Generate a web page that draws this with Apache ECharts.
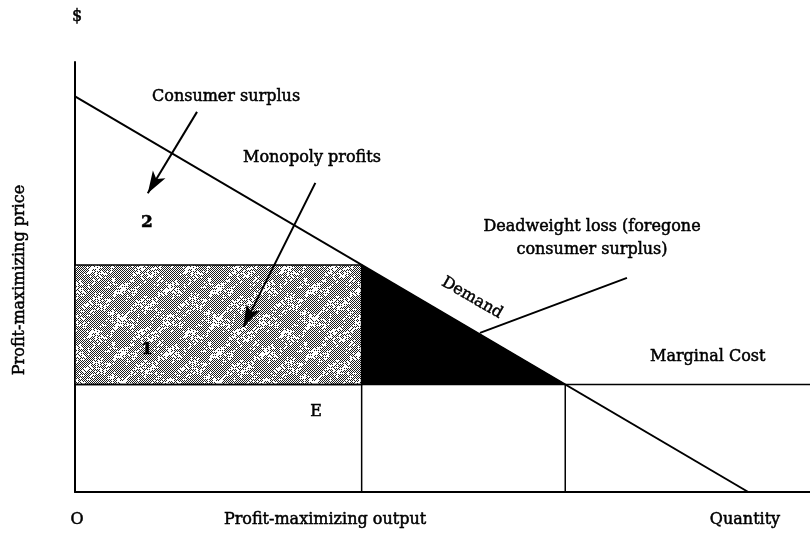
<!DOCTYPE html>
<html>
<head>
<meta charset="utf-8">
<script src="https://cdn.jsdelivr.net/npm/echarts@6/dist/echarts.min.js"></script>
<style>html,body{margin:0;padding:0;background:#fff}#c{width:810px;height:535px}</style>
</head>
<body>
<div id="c"></div>
<script>
// ---- data (quantity units 0..100, price units 0..100) ----
var demandQ = [0, 91.6];
var demandP = [92, 0];
var marginalCost = 25;
var monopolyQ = 39;
var monopolyP = 52.8;
var competitiveQ = 66.7;
var axisMaxQ = 100;
var axisMaxP = 100;
// annotation pointers [fromQ, fromP, toQ, toP]
var csArrow = [16.6, 88.4, 9.9, 69.5];
var mpArrow = [32.7, 71.9, 22.9, 38.4];
var dwlPointer = [75.1, 49.8, 55.1, 37.0];

var FONT = '"DejaVu Serif", serif';

// stipple texture (deterministic)
function makePattern() {
  var w = 96, h = 64;
  var cv = document.createElement('canvas');
  cv.width = w; cv.height = h;
  var ctx = cv.getContext('2d');
  ctx.fillStyle = '#ffffff';
  ctx.fillRect(0, 0, w, h);
  var img = ctx.getImageData(0, 0, w, h);
  for (var j = 0; j < h; j++) {
    for (var i = 0; i < w; i++) {
      var s = Math.sin(i * 12.9898 + j * 78.233) * 43758.5453;
      var r = s - Math.floor(s);
      var d = 0.5 + 0.22 * Math.sin(i * 0.131 + 1.3) * Math.cos(j * 0.197) + 0.12 * Math.sin((i + j) * 0.41);
      var dark = ((i + j) % 2 === 0) && r < d * 1.7;
      var k = (j * w + i) * 4;
      var v = dark ? 30 : 255;
      img.data[k] = v; img.data[k + 1] = v; img.data[k + 2] = v; img.data[k + 3] = 255;
    }
  }
  ctx.putImageData(img, 0, 0);
  return cv;
}

var chart = echarts.init(document.getElementById('c'), null, {renderer: 'canvas'});

function seg(a) { return [{coord: [a[0], a[1]]}, {coord: [a[2], a[3]]}]; }
function txt(x, y, s, opts) {
  opts = opts || {};
  return {
    type: 'text', x: x, y: y, z: 100, rotation: opts.rotation || 0,
    style: {
      text: s, font: (opts.weight || 'normal') + ' ' + (opts.size || 16) + 'px ' + FONT,
      fill: '#000', stroke: '#000', lineWidth: 0.5,
      textAlign: opts.align || 'left', textVerticalAlign: 'middle'
    }
  };
}

var option = {
  animation: false,
  backgroundColor: '#ffffff',
  grid: {left: 75, right: 0, top: 62, bottom: 43, containLabel: false},
  xAxis: {
    type: 'value', min: 0, max: axisMaxQ,
    axisLine: {show: true, onZero: false, lineStyle: {color: '#000', width: 2}},
    axisTick: {show: false}, axisLabel: {show: false}, splitLine: {show: false}
  },
  yAxis: {
    type: 'value', min: 0, max: axisMaxP,
    axisLine: {show: true, onZero: false, lineStyle: {color: '#000', width: 2}},
    axisTick: {show: false}, axisLabel: {show: false}, splitLine: {show: false}
  },
  series: [
    {
      type: 'custom', name: 'Monopoly profits',
      renderItem: function (params, api) {
        var p0 = api.coord([0, monopolyP]);
        var p1 = api.coord([monopolyQ, marginalCost]);
        return {
          type: 'rect',
          shape: {x: p0[0], y: p0[1], width: p1[0] - p0[0], height: p1[1] - p0[1]},
          style: {fill: {image: makePattern(), repeat: 'repeat'}, stroke: '#000', lineWidth: 1.5}
        };
      },
      data: [[0]], silent: true, z: 1
    },
    {
      type: 'custom', name: 'Deadweight loss',
      renderItem: function (params, api) {
        var a = api.coord([monopolyQ, monopolyP]);
        var b = api.coord([monopolyQ, marginalCost]);
        var c = api.coord([competitiveQ, marginalCost]);
        return {
          type: 'polygon',
          shape: {points: [a, b, c]},
          style: {fill: '#000', stroke: '#000', lineWidth: 1}
        };
      },
      data: [[0]], silent: true, z: 2
    },
    {
      type: 'line', name: 'Demand', symbol: 'none', z: 3,
      data: [[demandQ[0], demandP[0]], [demandQ[1], demandP[1]]],
      lineStyle: {color: '#000', width: 2},
      markLine: {
        silent: true, animation: false, label: {show: false},
        symbol: ['none', 'arrow'], symbolSize: [11, 22],
        lineStyle: {color: '#000', width: 2, type: 'solid'},
        data: [seg(csArrow), seg(mpArrow)]
      }
    },
    {
      type: 'line', name: 'Marginal Cost', symbol: 'none', z: 3,
      data: [[0, marginalCost], [axisMaxQ, marginalCost]],
      lineStyle: {color: '#000', width: 1.5},
      markLine: {
        silent: true, animation: false, label: {show: false},
        symbol: ['none', 'none'],
        lineStyle: {color: '#000', width: 2, type: 'solid'},
        data: [seg(dwlPointer)]
      }
    },
    {
      type: 'line', name: 'Profit-maximizing output', symbol: 'none', z: 3,
      data: [[monopolyQ, 0], [monopolyQ, monopolyP]],
      lineStyle: {color: '#000', width: 1.5}
    },
    {
      type: 'line', name: 'Competitive output', symbol: 'none', z: 3,
      data: [[competitiveQ, 0], [competitiveQ, marginalCost]],
      lineStyle: {color: '#000', width: 1.5}
    }
  ],
  graphic: {
    elements: [
      txt(77, 17, '$', {align: 'center'}),
      txt(152, 97, 'Consumer surplus'),
      txt(243, 158, 'Monopoly profits'),
      txt(147, 223, '2', {align: 'center', size: 17, weight: 'bold'}),
      txt(147, 350, '1', {align: 'center', size: 17, weight: 'bold'}),
      txt(316, 412, 'E', {align: 'center'}),
      txt(592, 227, 'Deadweight loss (foregone', {align: 'center'}),
      txt(592, 250, 'consumer surplus)', {align: 'center'}),
      txt(472, 298, 'Demand', {align: 'center', rotation: -Math.PI / 6}),
      txt(650, 357, 'Marginal Cost'),
      txt(77, 520, 'O', {align: 'center'}),
      txt(325, 520, 'Profit-maximizing output', {align: 'center'}),
      txt(745, 520, 'Quantity', {align: 'center'}),
      txt(20, 280, 'Profit-maximizing price', {align: 'center', rotation: Math.PI / 2})
    ]
  }
};
chart.setOption(option);
</script>
</body>
</html>
